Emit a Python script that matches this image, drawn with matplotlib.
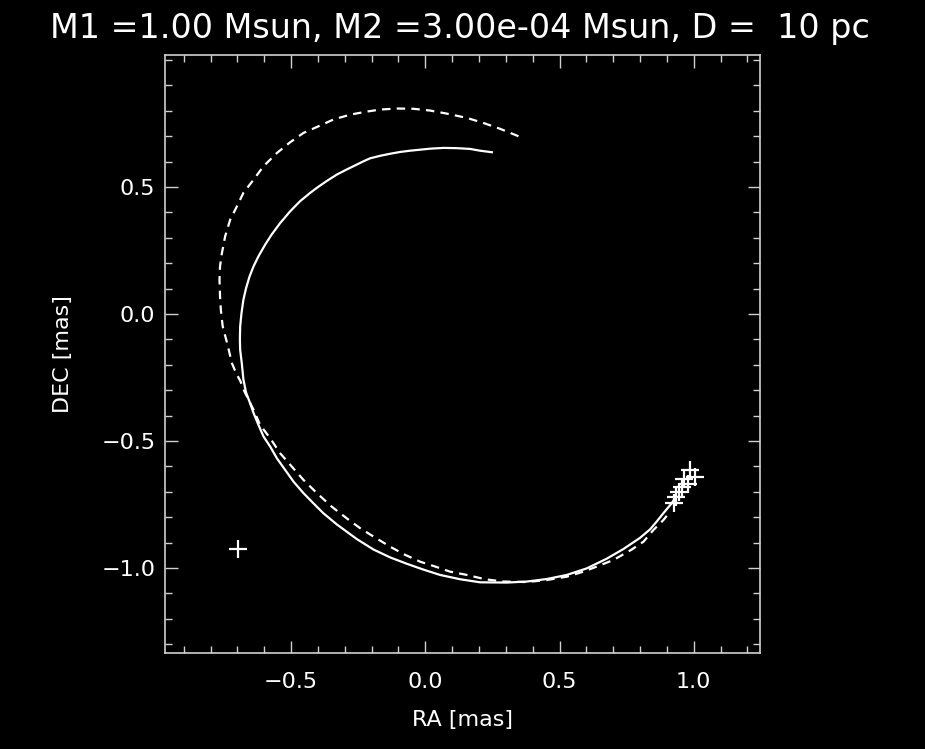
import numpy as np
import matplotlib
matplotlib.use("Agg")
import matplotlib.pyplot as plt
from matplotlib.ticker import MultipleLocator, FixedLocator, FuncFormatter

# astrometric track of the primary (solid), in mas
ra_solid = [0.248, 0.204, 0.167, 0.117, 0.068, 0.018, -0.019, -0.057, -0.094, -0.131,
            -0.168, -0.206, -0.231, -0.262, -0.293, -0.330, -0.367, -0.404, -0.429, -0.467,
            -0.504, -0.541, -0.572, -0.597, -0.622, -0.640, -0.655, -0.668, -0.678, -0.685,
            -0.690, -0.691, -0.690, -0.684, -0.678, -0.668, -0.653, -0.640, -0.622, -0.603,
            -0.578, -0.553, -0.522, -0.491, -0.454, -0.417, -0.380, -0.330, -0.286, -0.255,
            -0.193, -0.131, -0.069, -0.007, 0.055, 0.130, 0.204, 0.304, 0.378, 0.453,
            0.527, 0.602, 0.676, 0.738, 0.800, 0.838, 0.862, 0.887, 0.918, 0.930]
dec_solid = [0.637, 0.643, 0.650, 0.653, 0.654, 0.651, 0.647, 0.643, 0.638, 0.631,
             0.623, 0.613, 0.601, 0.585, 0.569, 0.549, 0.524, 0.497, 0.477, 0.444,
             0.404, 0.358, 0.314, 0.273, 0.227, 0.188, 0.148, 0.102, 0.056, 0.004,
             -0.049, -0.100, -0.141, -0.193, -0.257, -0.309, -0.351, -0.390, -0.436, -0.482,
             -0.522, -0.568, -0.614, -0.660, -0.705, -0.745, -0.784, -0.828, -0.862, -0.886,
             -0.927, -0.958, -0.983, -1.006, -1.027, -1.044, -1.056, -1.057, -1.053, -1.043,
             -1.027, -1.001, -0.963, -0.925, -0.881, -0.847, -0.817, -0.784, -0.745, -0.725]

# model track (dashed), in mas
ra_dash = [0.347, 0.279, 0.217, 0.155, 0.080, 0.018, -0.044, -0.106, -0.168, -0.218,
           -0.280, -0.342, -0.392, -0.454, -0.504, -0.553, -0.603, -0.640, -0.678, -0.702,
           -0.727, -0.746, -0.758, -0.765, -0.767, -0.765, -0.762, -0.755, -0.742, -0.734,
           -0.721, -0.705, -0.690, -0.674, -0.640, -0.616, -0.578, -0.541, -0.498, -0.454,
           -0.404, -0.349, -0.293, -0.243, -0.193, -0.131, -0.075, -0.019, 0.037, 0.092,
           0.155, 0.223, 0.291, 0.378, 0.453, 0.527, 0.589, 0.639, 0.701, 0.766,
           0.813, 0.850, 0.887, 0.912]
dec_dash = [0.700, 0.729, 0.752, 0.772, 0.789, 0.801, 0.808, 0.809, 0.805, 0.797,
            0.785, 0.766, 0.742, 0.713, 0.676, 0.634, 0.582, 0.529, 0.477, 0.424,
            0.372, 0.306, 0.240, 0.188, 0.135, 0.070, 0.017, -0.049, -0.101, -0.134,
            -0.193, -0.233, -0.262, -0.305, -0.377, -0.436, -0.489, -0.548, -0.600, -0.653,
            -0.705, -0.758, -0.804, -0.843, -0.876, -0.916, -0.948, -0.975, -0.994, -1.014,
            -1.027, -1.044, -1.053, -1.055, -1.047, -1.034, -1.014, -0.994, -0.968, -0.929,
            -0.896, -0.850, -0.811, -0.778]

# observed epochs
ra_obs = [0.985, 1.005, 0.965, 0.980, 0.955, 0.945, 0.935, 0.925]
dec_obs = [-0.615, -0.640, -0.650, -0.670, -0.680, -0.700, -0.720, -0.745]

# reference position
ra_ref = [-0.697]
dec_ref = [-0.925]

title = "M1 =1.00 Msun, M2 =3.00e-04 Msun, D =  10 pc"
xticks = [-0.5, 0.0, 0.5, 1.0]
yticks = [-1.0, -0.5, 0.0, 0.5]

fg = "white"
plt.rcParams["font.family"] = ["DejaVu Sans"]


def idl_fmt(v, pos):
    s = "%.1f" % abs(v)
    return ("\u2212" + s) if v < -1e-9 else s


fig = plt.figure(figsize=(9.25, 7.49), dpi=100, facecolor="black")
ax = fig.add_axes([0.1784, 0.1286, 0.6432, 0.7984], facecolor="black")

ax.plot(ra_solid, dec_solid, color=fg, lw=1.6, solid_joinstyle="round")
ax.plot(ra_dash, dec_dash, color=fg, lw=1.6, linestyle=(0, (3.8, 2.8)))
ax.plot(ra_obs, dec_obs, "+", color=fg, ms=13, mew=1.6)
ax.plot(ra_ref, dec_ref, "+", color=fg, ms=13, mew=1.6)

ax.set_xlim(-0.970, 1.247)
ax.set_ylim(-1.333, 1.021)

ax.xaxis.set_major_locator(FixedLocator(xticks))
ax.xaxis.set_minor_locator(MultipleLocator(0.1))
ax.yaxis.set_major_locator(FixedLocator(yticks))
ax.yaxis.set_minor_locator(MultipleLocator(0.1))
ax.xaxis.set_major_formatter(FuncFormatter(idl_fmt))
ax.yaxis.set_major_formatter(FuncFormatter(idl_fmt))

for s in ax.spines.values():
    s.set_color("#d0d0d0")
    s.set_linewidth(1.2)

ax.tick_params(which="both", direction="in", top=True, right=True,
               color="#d0d0d0", width=1.0, labelcolor=fg, labelsize=16)
ax.tick_params(which="major", length=9)
ax.tick_params(which="minor", length=4.7)
ax.tick_params(axis="x", which="major", pad=14)
ax.tick_params(axis="y", which="major", pad=7)

ax.set_xlabel("RA [mas]", color=fg, fontsize=16, labelpad=13)
ax.set_ylabel("DEC [mas]", color=fg, fontsize=16, labelpad=20)

fig.text(0.4973, 0.962, title, color=fg, fontsize=24, ha="center", va="center")

fig.savefig("out.png", dpi=100, facecolor="black")
